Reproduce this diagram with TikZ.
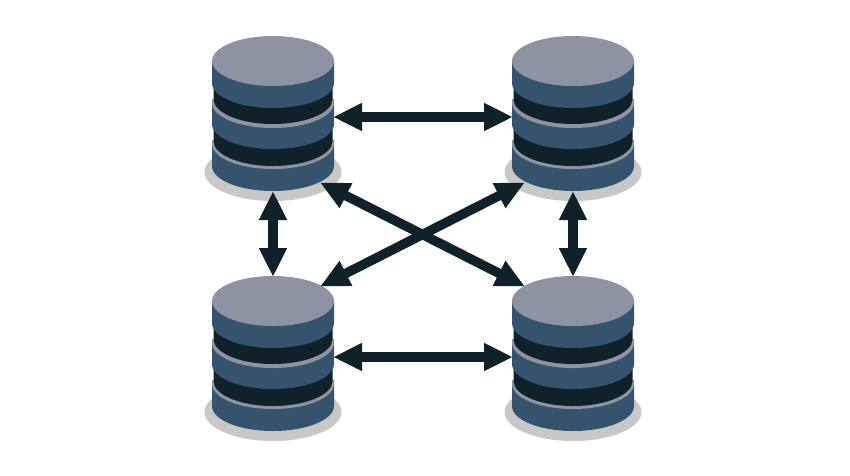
\documentclass[tikz,border=0pt]{standalone}
\usepackage{tikz}
\usetikzlibrary{arrows.meta}
\definecolor{diskblue}{HTML}{35536C}
\definecolor{diskgray}{HTML}{8E93A2}
\definecolor{diskdark}{HTML}{102129}
\definecolor{diskshadow}{HTML}{C8C8C8}
\begin{document}
\begin{tikzpicture}[x=1pt,y=-1pt]
    \tikzstyle{link}=[{Triangle[length=29pt,width=26pt]}-{Triangle[length=29pt,width=26pt]},shorten >=-1pt,shorten <=-1pt,line width=9.5pt,draw=diskdark]

\useasboundingbox (0,0) rectangle (850,475);

\foreach \name/\x/\y in {tl/273/61,tr/573/61,bl/273/301,br/573/301}{
\begin{scope}[shift={(\x,\y)}]
\fill[diskshadow] (0,111) ellipse [x radius=68.5,y radius=29];
\foreach \t/\b/\r/\c in {84/105/61/diskblue,79/83/61/diskgray,60/80/59.5/diskdark,42/63/61/diskblue,38/42/61/diskgray,20/38/59.5/diskdark,0/22/61/diskblue}{
\fill[\c] (-\r,\t) -- (-\r,\b) arc [start angle=180,end angle=0,x radius=\r,y radius=25] -- (\r,\t) -- cycle;
};
\fill[diskgray] (0,0) ellipse [x radius=61,y radius=25];
\coordinate (\name e) at (61,56);
\coordinate (\name w) at (-61,56);
\coordinate (\name s) at (0,131);
\coordinate (\name n) at (0,-25);
\coordinate (\name se) at (48,122);
\coordinate (\name sw) at (-49,122);
\coordinate (\name ne) at (48,-15);
\coordinate (\name nw) at (-49,-15);
\end{scope}
};

\draw[link] (tle) -- (trw);
\draw[link] (ble) -- (brw);
\draw[link] (tls) -- (bln);
\draw[link] (trs) -- (brn);
\draw[link] (tlse) -- (brnw);
\draw[link] (trsw) -- (blne);
\end{tikzpicture}
\end{document}
